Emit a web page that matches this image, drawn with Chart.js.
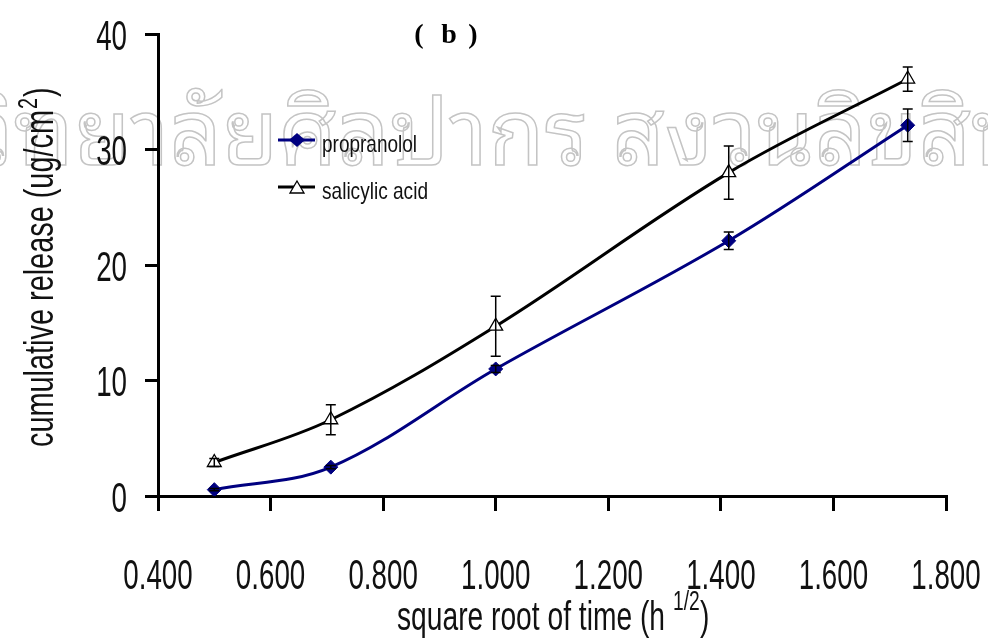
<!DOCTYPE html>
<html>
<head>
<meta charset="utf-8">
<script src="https://cdn.jsdelivr.net/npm/chart.js@4.4.1/dist/chart.umd.min.js"></script>
<style>
html,body{margin:0;padding:0;background:#fff;}
#c{display:block;}
</style>
</head>
<body>
<canvas id="c" width="988" height="639"></canvas>
<script>
// ---- data ----
const sqrtTime = [0.500, 0.707, 1.000, 1.414, 1.732];
const propranolol = [0.55, 2.5, 11.0, 22.1, 32.1];
const propranololErr = [0.1, 0.15, 0.3, 0.75, 1.4];
const salicylic = [2.9, 6.6, 14.7, 28.0, 36.1];
const salicylicErr = [0.35, 1.3, 2.6, 2.3, 1.05];
const seriesNames = ['propranolol', 'salicylic acid'];
const xTickValues = [0.4, 0.6, 0.8, 1.0, 1.2, 1.4, 1.6, 1.8];
const yTickValues = [0, 10, 20, 30, 40];
const chartLabel = ['(', 'b', ')'];
const xTitle = 'square root of time (h';
const xTitleSup = '1/2';
const yTitle = 'cumulative release (ug/cm';
const yTitleSup = '2';
const watermarkHead = 'มหาวิทยาลัยศิลปากร ';
const watermarkTail = 'สงวนลิขสิทธิ์';

const FONT = '"Liberation Sans", Arial, sans-serif';
const TICK_SIZE = 43, TICK_SX = 0.645;
const toPts = (xs, ys) => xs.map((x, i) => ({x: x, y: ys[i]}));

// draw horizontally condensed text
function cText(ctx, text, x, y, size, align, sx) {
  ctx.font = size + 'px ' + FONT;
  const w = ctx.measureText(text).width;
  ctx.save();
  ctx.translate(x, y);
  ctx.scale(sx, 1);
  const off = align === 'center' ? -w / 2 : align === 'right' ? -w : 0;
  ctx.textAlign = 'left';
  ctx.fillText(text, off, 0);
  ctx.restore();
}
function fitScale(ctx, text, size, target) {
  ctx.font = size + 'px ' + FONT;
  return target / ctx.measureText(text).width;
}

const extras = {
  id: 'extras',
  beforeDraw(chart) {
    const ctx = chart.ctx;
    ctx.save();
    ctx.font = '92px "Noto Sans Thai Looped", "Noto Serif Thai", "Noto Sans Thai", Loma, Garuda, Norasi, sans-serif';
    ctx.textBaseline = 'alphabetic';
    ctx.textAlign = 'left';
    ctx.strokeStyle = '#c4c4c4';
    ctx.lineWidth = 1.5;
    const headW = ctx.measureText(watermarkHead).width;
    ctx.strokeText(watermarkHead + watermarkTail, 612 - headW, 165);
    ctx.restore();
  },
  afterDatasetsDraw(chart) {
    const ctx = chart.ctx;
    const xs = chart.scales.x, ys = chart.scales.y;
    // error bars
    const drawErr = (vals, errs) => {
      ctx.save();
      ctx.strokeStyle = '#000';
      ctx.lineWidth = 1.5;
      vals.forEach((v, i) => {
        const px = xs.getPixelForValue(sqrtTime[i]);
        const top = ys.getPixelForValue(v + errs[i]);
        const bot = ys.getPixelForValue(v - errs[i]);
        ctx.beginPath();
        ctx.moveTo(px, top); ctx.lineTo(px, bot);
        ctx.moveTo(px - 5, top); ctx.lineTo(px + 5, top);
        ctx.moveTo(px - 5, bot); ctx.lineTo(px + 5, bot);
        ctx.stroke();
      });
      ctx.restore();
    };
    drawErr(propranolol, propranololErr);
    drawErr(salicylic, salicylicErr);

    ctx.save();
    ctx.fillStyle = '#111';
    ctx.textBaseline = 'alphabetic';
    // tick labels from the library's scales
    xs.ticks.forEach(t => {
      cText(ctx, Number(t.value).toFixed(3), xs.getPixelForValue(t.value), 589, TICK_SIZE, 'center', TICK_SX);
    });
    ys.ticks.forEach(t => {
      cText(ctx, String(t.value), 127, ys.getPixelForValue(t.value) + 15.5, TICK_SIZE, 'right', TICK_SX);
    });
    ctx.restore();

    // legend
    ctx.save();
    const lx = 278, ly = [140, 187];
    const colors = ['#000080', '#000'];
    const legendTargets = [95, 106];
    ly.forEach((y, i) => {
      ctx.strokeStyle = colors[i];
      ctx.lineWidth = 3;
      ctx.beginPath(); ctx.moveTo(lx, y); ctx.lineTo(lx + 37, y); ctx.stroke();
      const cx = lx + 19;
      if (i === 0) {
        ctx.fillStyle = '#000080';
        ctx.beginPath();
        ctx.moveTo(cx, y - 7); ctx.lineTo(cx + 8, y); ctx.lineTo(cx, y + 7); ctx.lineTo(cx - 8, y);
        ctx.closePath(); ctx.fill();
      } else {
        ctx.fillStyle = '#fff';
        ctx.strokeStyle = '#000';
        ctx.lineWidth = 1.3;
        ctx.beginPath();
        ctx.moveTo(cx, y - 6); ctx.lineTo(cx + 7, y + 6); ctx.lineTo(cx - 7, y + 6);
        ctx.closePath(); ctx.fill(); ctx.stroke();
      }
      ctx.fillStyle = '#111';
      ctx.textBaseline = 'alphabetic';
      const sx = fitScale(ctx, seriesNames[i], 24, legendTargets[i]);
      cText(ctx, seriesNames[i], 322, y + 12, 24, 'left', sx);
    });
    ctx.restore();

    // chart label "( b )"
    ctx.save();
    ctx.fillStyle = '#000';
    ctx.font = 'bold 28px "Liberation Serif", "Times New Roman", serif';
    ctx.textAlign = 'center';
    ctx.textBaseline = 'alphabetic';
    ctx.fillText(chartLabel[0], 419, 43);
    ctx.fillText(chartLabel[1], 449, 43);
    ctx.fillText(chartLabel[2], 473, 43);
    ctx.restore();

    // x axis title with superscript
    ctx.save();
    ctx.fillStyle = '#111';
    ctx.textBaseline = 'alphabetic';
    const xsx = fitScale(ctx, xTitle, 41, 268);
    cText(ctx, xTitle, 397, 630, 41, 'left', xsx);
    cText(ctx, xTitleSup, 673, 610, 28, 'left', xsx);
    cText(ctx, ')', 700, 630, 41, 'left', xsx);
    ctx.restore();

    // y axis title rotated with superscript
    ctx.save();
    ctx.fillStyle = '#111';
    ctx.textBaseline = 'alphabetic';
    ctx.translate(53, 447);
    ctx.rotate(-Math.PI / 2);
    const ysx = fitScale(ctx, yTitle, 41, 337);
    cText(ctx, yTitle, 0, 0, 41, 'left', ysx);
    cText(ctx, yTitleSup, 338, -16, 28, 'left', ysx);
    cText(ctx, ')', 350, 0, 41, 'left', ysx);
    ctx.restore();
  }
};

new Chart(document.getElementById('c'), {
  type: 'line',
  data: {
    datasets: [
      {
        label: seriesNames[0],
        data: toPts(sqrtTime, propranolol),
        borderColor: '#000080',
        backgroundColor: '#000080',
        borderWidth: 3,
        pointStyle: 'rectRot',
        pointRadius: 7,
        pointBorderWidth: 1,
        pointBackgroundColor: '#000080',
        pointBorderColor: '#000080',
        tension: 0.35,
        fill: false
      },
      {
        label: seriesNames[1],
        data: toPts(sqrtTime, salicylic),
        borderColor: '#000',
        backgroundColor: '#fff',
        borderWidth: 3,
        pointStyle: 'triangle',
        pointRadius: 8,
        pointBorderWidth: 1.3,
        pointBackgroundColor: '#fff',
        pointBorderColor: '#000',
        tension: 0.35,
        fill: false
      }
    ]
  },
  options: {
    responsive: false,
    animation: false,
    devicePixelRatio: 1,
    layout: {padding: {left: 0, right: 42, top: 34, bottom: 0}},
    plugins: {legend: {display: false}, tooltip: {enabled: false}, title: {display: false}},
    scales: {
      x: {
        type: 'linear',
        min: xTickValues[0],
        max: xTickValues[xTickValues.length - 1],
        afterBuildTicks: s => { s.ticks = xTickValues.map(v => ({value: v})); },
        afterFit: s => { s.height = 143; },
        ticks: {display: false},
        grid: {drawOnChartArea: false, drawTicks: true, tickLength: 15, color: '#000', lineWidth: 3},
        border: {display: true, color: '#000', width: 3}
      },
      y: {
        type: 'linear',
        min: yTickValues[0],
        max: yTickValues[yTickValues.length - 1],
        afterBuildTicks: s => { s.ticks = yTickValues.map(v => ({value: v})); },
        afterFit: s => { s.width = 158; },
        ticks: {display: false},
        grid: {drawOnChartArea: false, drawTicks: true, tickLength: 13, color: '#000', lineWidth: 3},
        border: {display: true, color: '#000', width: 3}
      }
    }
  },
  plugins: [extras]
});
</script>
</body>
</html>
